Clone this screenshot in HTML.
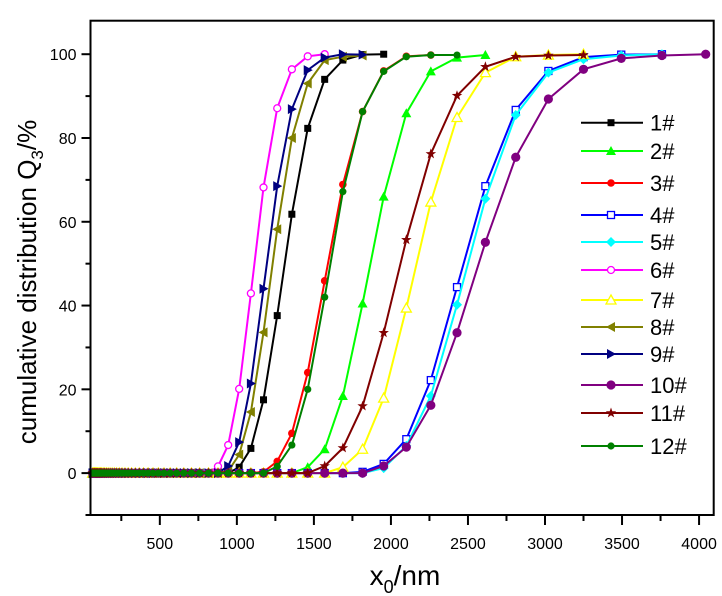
<!DOCTYPE html>
<html><head><meta charset="utf-8"><style>
html,body{margin:0;padding:0;background:#fff;}
svg{display:block;font-family:"Liberation Sans",Arial,sans-serif;}
</style></head><body>
<svg id="chart" width="722" height="596" viewBox="0 0 722 596" xmlns="http://www.w3.org/2000/svg">
<rect width="722" height="596" fill="#fff"/>
<g id="series"></g>
<g id="axes"></g>
<g id="legend"></g>
<text transform="translate(36,282) rotate(-90)" text-anchor="middle" font-size="26">cumulative distribution Q<tspan font-size="17" dy="7">3</tspan><tspan dy="-7">/%</tspan></text>
<text x="405" y="585" text-anchor="middle" font-size="28">x<tspan font-size="18" dy="8">0</tspan><tspan dy="-8">/nm</tspan></text>
</svg>
<script>
const xGrid = [63.8,68.7,73.9,79.4,85.4,91.9,98.8,106.3,114.3,122.9,132.2,142.2,152.9,164.5,176.9,190.3,204.6,220,236.7,254.5,273.8,294.4,316.7,340.6,366.3,394,423.7,455.7,490.1,527.1,566.9,609.7,655.8,705.3,758.5,815.8,877.4,943.6,1015,1091,1173,1262,1357,1460,1570,1688,1816,1953,2100,2259,2429,2613,2810,3022,3250,3495,3759,4043];
const seriesNames = ["1#","2#","3#","4#","5#","6#","7#","8#","9#","10#","11#","12#"];
// tail values: [startIndex, values...]; earlier grid points are 0
const s1 = [37, 0, 1.4, 5.9, 17.5, 37.6, 61.8, 82.3, 94, 98.6, 99.9, 100];
const s2 = [42, 0, 1.4, 5.7, 18.4, 40.5, 66, 85.9, 95.9, 99.2, 99.8];
const s3 = [39, 0, 0.3, 2.8, 9.5, 24, 45.9, 68.9, 86.3, 96, 99.5, 99.8];
const s4 = [45, 0, 0.3, 2.2, 8.1, 22.2, 44.4, 68.5, 86.7, 96, 99.3, 99.9, 100];
const s5 = [46, 0, 1.2, 6.5, 18.4, 40.2, 65.5, 85.5, 95.6, 98.8, 99.7, 100];
const s6 = [35, 0, 1.6, 6.7, 20.1, 42.9, 68.2, 87.1, 96.4, 99.5, 100];
const s7 = [44, 0, 1.4, 5.7, 17.9, 39.4, 64.7, 84.9, 95.6, 99.4, 99.8, 100];
const s8 = [36, 0, 0.5, 4.4, 14.6, 33.6, 58.2, 80, 93, 98.6, 99.4, 99.7];
const s9 = [36, 0, 1.7, 7.4, 21.4, 44, 68.5, 86.9, 96.2, 99.2, 100, 99.9];
const s10 = [46, 0, 1.7, 6.2, 16.2, 33.5, 55.1, 75.4, 89.3, 96.4, 99, 99.7, 100];
const s11 = [43, 0, 1.7, 6, 16, 33.5, 55.7, 76.2, 90.1, 97, 99.4, 99.7, 99.8];
const s12 = [40, 0, 1.6, 6.7, 20, 42, 67.2, 86.3, 95.9, 99.4, 99.8, 99.8];
const xTicks = [500,1000,1500,2000,2500,3000,3500,4000];
const yTicks = [0,20,40,60,80,100];

const NS="http://www.w3.org/2000/svg";
const L=90.5,R=713.7,T=20.7,B=515;
const xMin=50,xMax=4095,yMin=-10,yMax=108;
function X(v){return L+(v-xMin)/(xMax-xMin)*(R-L);}
function Y(v){return B-(v-yMin)/(yMax-yMin)*(B-T);}
function mk(tag,attrs,parent){const e=document.createElementNS(NS,tag);for(const k in attrs)e.setAttribute(k,attrs[k]);parent.appendChild(e);return e;}

const colors=["#000000","#00ff00","#ff0000","#0000ff","#00ffff","#ff00ff","#ffff00","#808000","#000080","#800080","#800000","#008000"];
const shapes=["square","triUp","circle","openSquare","diamond","openCircle","openTriUp","triLeft","triRight","bigCircle","star","smallCircle"];
const all=[s1,s2,s3,s4,s5,s6,s7,s8,s9,s10,s11,s12];

function marker(g,shape,c,x,y){
  let e;
  if(shape==="square"){e=mk('rect',{x:x-3.5,y:y-3.5,width:7,height:7,fill:c},g);}
  else if(shape==="openSquare"){e=mk('rect',{x:x-3.5,y:y-3.5,width:7,height:7,fill:'#fff',stroke:c,'stroke-width':1.3},g);}
  else if(shape==="circle"){e=mk('circle',{cx:x,cy:y,r:3.8,fill:c},g);}
  else if(shape==="smallCircle"){e=mk('circle',{cx:x,cy:y,r:3.6,fill:c},g);}
  else if(shape==="bigCircle"){e=mk('circle',{cx:x,cy:y,r:4.6,fill:c},g);}
  else if(shape==="openCircle"){e=mk('circle',{cx:x,cy:y,r:3.5,fill:'#fff',stroke:c,'stroke-width':1.3},g);}
  else if(shape==="triUp"){e=mk('polygon',{points:`${x},${y-5} ${x+5},${y+4} ${x-5},${y+4}`,fill:c},g);}
  else if(shape==="openTriUp"){e=mk('polygon',{points:`${x},${y-5} ${x+5},${y+4} ${x-5},${y+4}`,fill:'#fff',stroke:c,'stroke-width':1.3},g);}
  else if(shape==="triLeft"){e=mk('polygon',{points:`${x-5},${y} ${x+4},${y-5} ${x+4},${y+5}`,fill:c},g);}
  else if(shape==="triRight"){e=mk('polygon',{points:`${x+5},${y} ${x-4},${y-5} ${x-4},${y+5}`,fill:c},g);}
  else if(shape==="diamond"){e=mk('polygon',{points:`${x},${y-5} ${x+5},${y} ${x},${y+5} ${x-5},${y}`,fill:c},g);}
  else if(shape==="star"){let p=[];for(let i=0;i<10;i++){const r=i%2?2.2:5.5,a=-Math.PI/2+i*Math.PI/5;p.push((x+r*Math.cos(a)).toFixed(1)+","+(y+r*Math.sin(a)).toFixed(1));}e=mk('polygon',{points:p.join(' '),fill:c},g);}
  return e;
}

const sl=document.getElementById('series');
all.forEach((s,i)=>{
  const g=mk('g',{},sl);
  
  
  const start=s[0],vals=s.slice(1);
  const pts=[];
  for(let k=0;k<start;k++)pts.push([xGrid[k],0]);
  vals.forEach((v,j)=>pts.push([xGrid[start+j],v]));
  const line=mk('polyline',{points:pts.map(p=>X(p[0]).toFixed(1)+","+Y(p[1]).toFixed(1)).join(' '),fill:'none',stroke:colors[i],'stroke-width':2},g);
  
  
  pts.forEach(p=>{const m=marker(g,shapes[i],colors[i],X(p[0]),Y(p[1]));
    
    });
});

const ax=document.getElementById('axes');
const frame=mk('rect',{x:L,y:T,width:R-L,height:B-T,fill:'none',stroke:'#000','stroke-width':2},ax);


xTicks.forEach(v=>{
  mk('line',{x1:X(v),x2:X(v),y1:B,y2:B+10,stroke:'#000','stroke-width':2},ax);
  const t=mk('text',{x:X(v),y:B+34,'text-anchor':'middle','font-size':16},ax);
  t.textContent=v;
  
  
  mk('line',{x1:X(v-250),x2:X(v-250),y1:B,y2:B+6,stroke:'#000','stroke-width':2},ax);
});
yTicks.forEach(v=>{
  mk('line',{x1:L-9,x2:L,y1:Y(v),y2:Y(v),stroke:'#000','stroke-width':2},ax);
  const t=mk('text',{x:L-14,y:Y(v)+6,'text-anchor':'end','font-size':16},ax);
  t.textContent=v;
  
  
  mk('line',{x1:L-5,x2:L,y1:Y(v-10),y2:Y(v-10),stroke:'#000','stroke-width':2},ax);
});

const lg=document.getElementById('legend');
const rowsY=[122.7,151,183,215,242,270,300,327,354,385,413,446];
seriesNames.forEach((n,i)=>{
  const g=mk('g',{},lg);
  
  
  const y=rowsY[i];
  mk('line',{x1:581,x2:643,y1:y,y2:y,stroke:colors[i],'stroke-width':2},g);
  marker(g,shapes[i],colors[i],611,y);
  const t=mk('text',{x:650,y:y+8,'font-size':22},g);
  t.textContent=n;
});
</script>
</body></html>
